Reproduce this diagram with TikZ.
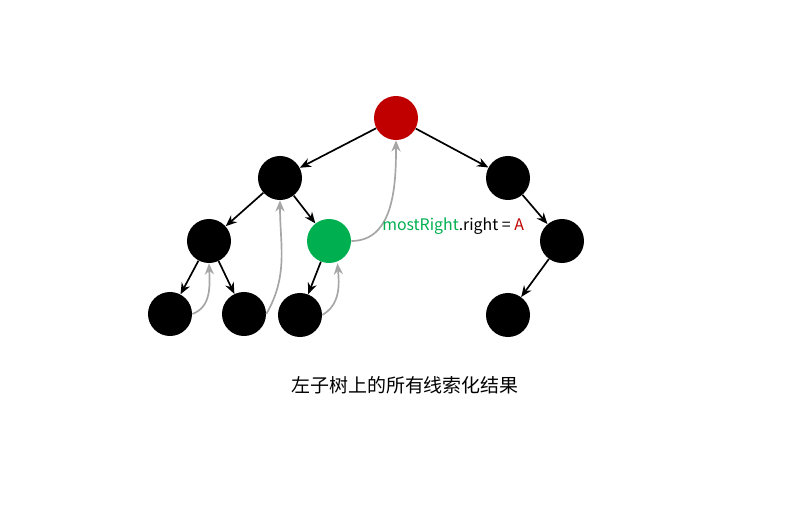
\documentclass[tikz,border=0pt]{standalone}
\usepackage{fontspec}
\newfontfamily\cjk{Noto Sans CJK SC}
\usepackage{tikz}
\usetikzlibrary{arrows.meta, positioning}
\usepackage{xcolor}
\definecolor{rootred}{HTML}{C00000}
\definecolor{mrgreen}{HTML}{00B050}
\definecolor{threadgray}{HTML}{A6A6A6}

\begin{document}
\begin{tikzpicture}[x=0.025cm,y=-0.025cm,
    knot/.style={circle,fill=black,minimum size=1.1cm,inner sep=0pt},
    edge/.style={-{Stealth[length=8pt,width=6.5pt]},line width=1.2pt},
    thread/.style={-{Stealth[length=8pt,width=6.5pt]},threadgray,line width=1.2pt}]
  \useasboundingbox (0,0) rectangle (789,531);
  % nodes
  \node[knot,fill=rootred] (a) at (396,118) {};
  \node[knot] (b) at (280,178) {};
  \node[knot] (c) at (508,178) {};
  \node[knot] (d) at (209,241) {};
  \node[knot,fill=mrgreen] (e) at (329,241) {};
  \node[knot] (f) at (562,241) {};
  \node[knot] (g) at (170,314) {};
  \node[knot] (h) at (244,314) {};
  \node[knot] (i) at (300,315) {};
  \node[knot] (j) at (508,315) {};
  % tree edges
  \draw[edge] (a) -- (b);
  \draw[edge] (a) -- (c);
  \draw[edge] (b) -- (d);
  \draw[edge] (b) -- (e);
  \draw[edge] (c) -- (f);
  \draw[edge] (d) -- (g);
  \draw[edge] (d) -- (h);
  \draw[edge] (e) -- (i);
  \draw[edge] (f) -- (j);
  % threads
  \draw[thread] (g.east) to[out=20,in=-88] (d.south);
  \draw[thread] (h.east) to[out=60,in=-90] (b.south);
  \draw[thread] (i.east) to[out=30,in=-85] ([xshift=6]e.south);
  \draw[thread] (e.east) to[out=0,in=-90] (a.south);
  % labels
  \node[font=\cjk\fontsize{11.3}{13}\selectfont,anchor=west,inner sep=0pt] (lbl) at (382,226)
    {\textcolor{mrgreen}{mostRight}.right = \textcolor{rootred}{A}};
  \node[font=\cjk\fontsize{13.5}{16}\selectfont] (cap) at (405,385)
    {左子树上的所有线索化结果};
\end{tikzpicture}
\end{document}
